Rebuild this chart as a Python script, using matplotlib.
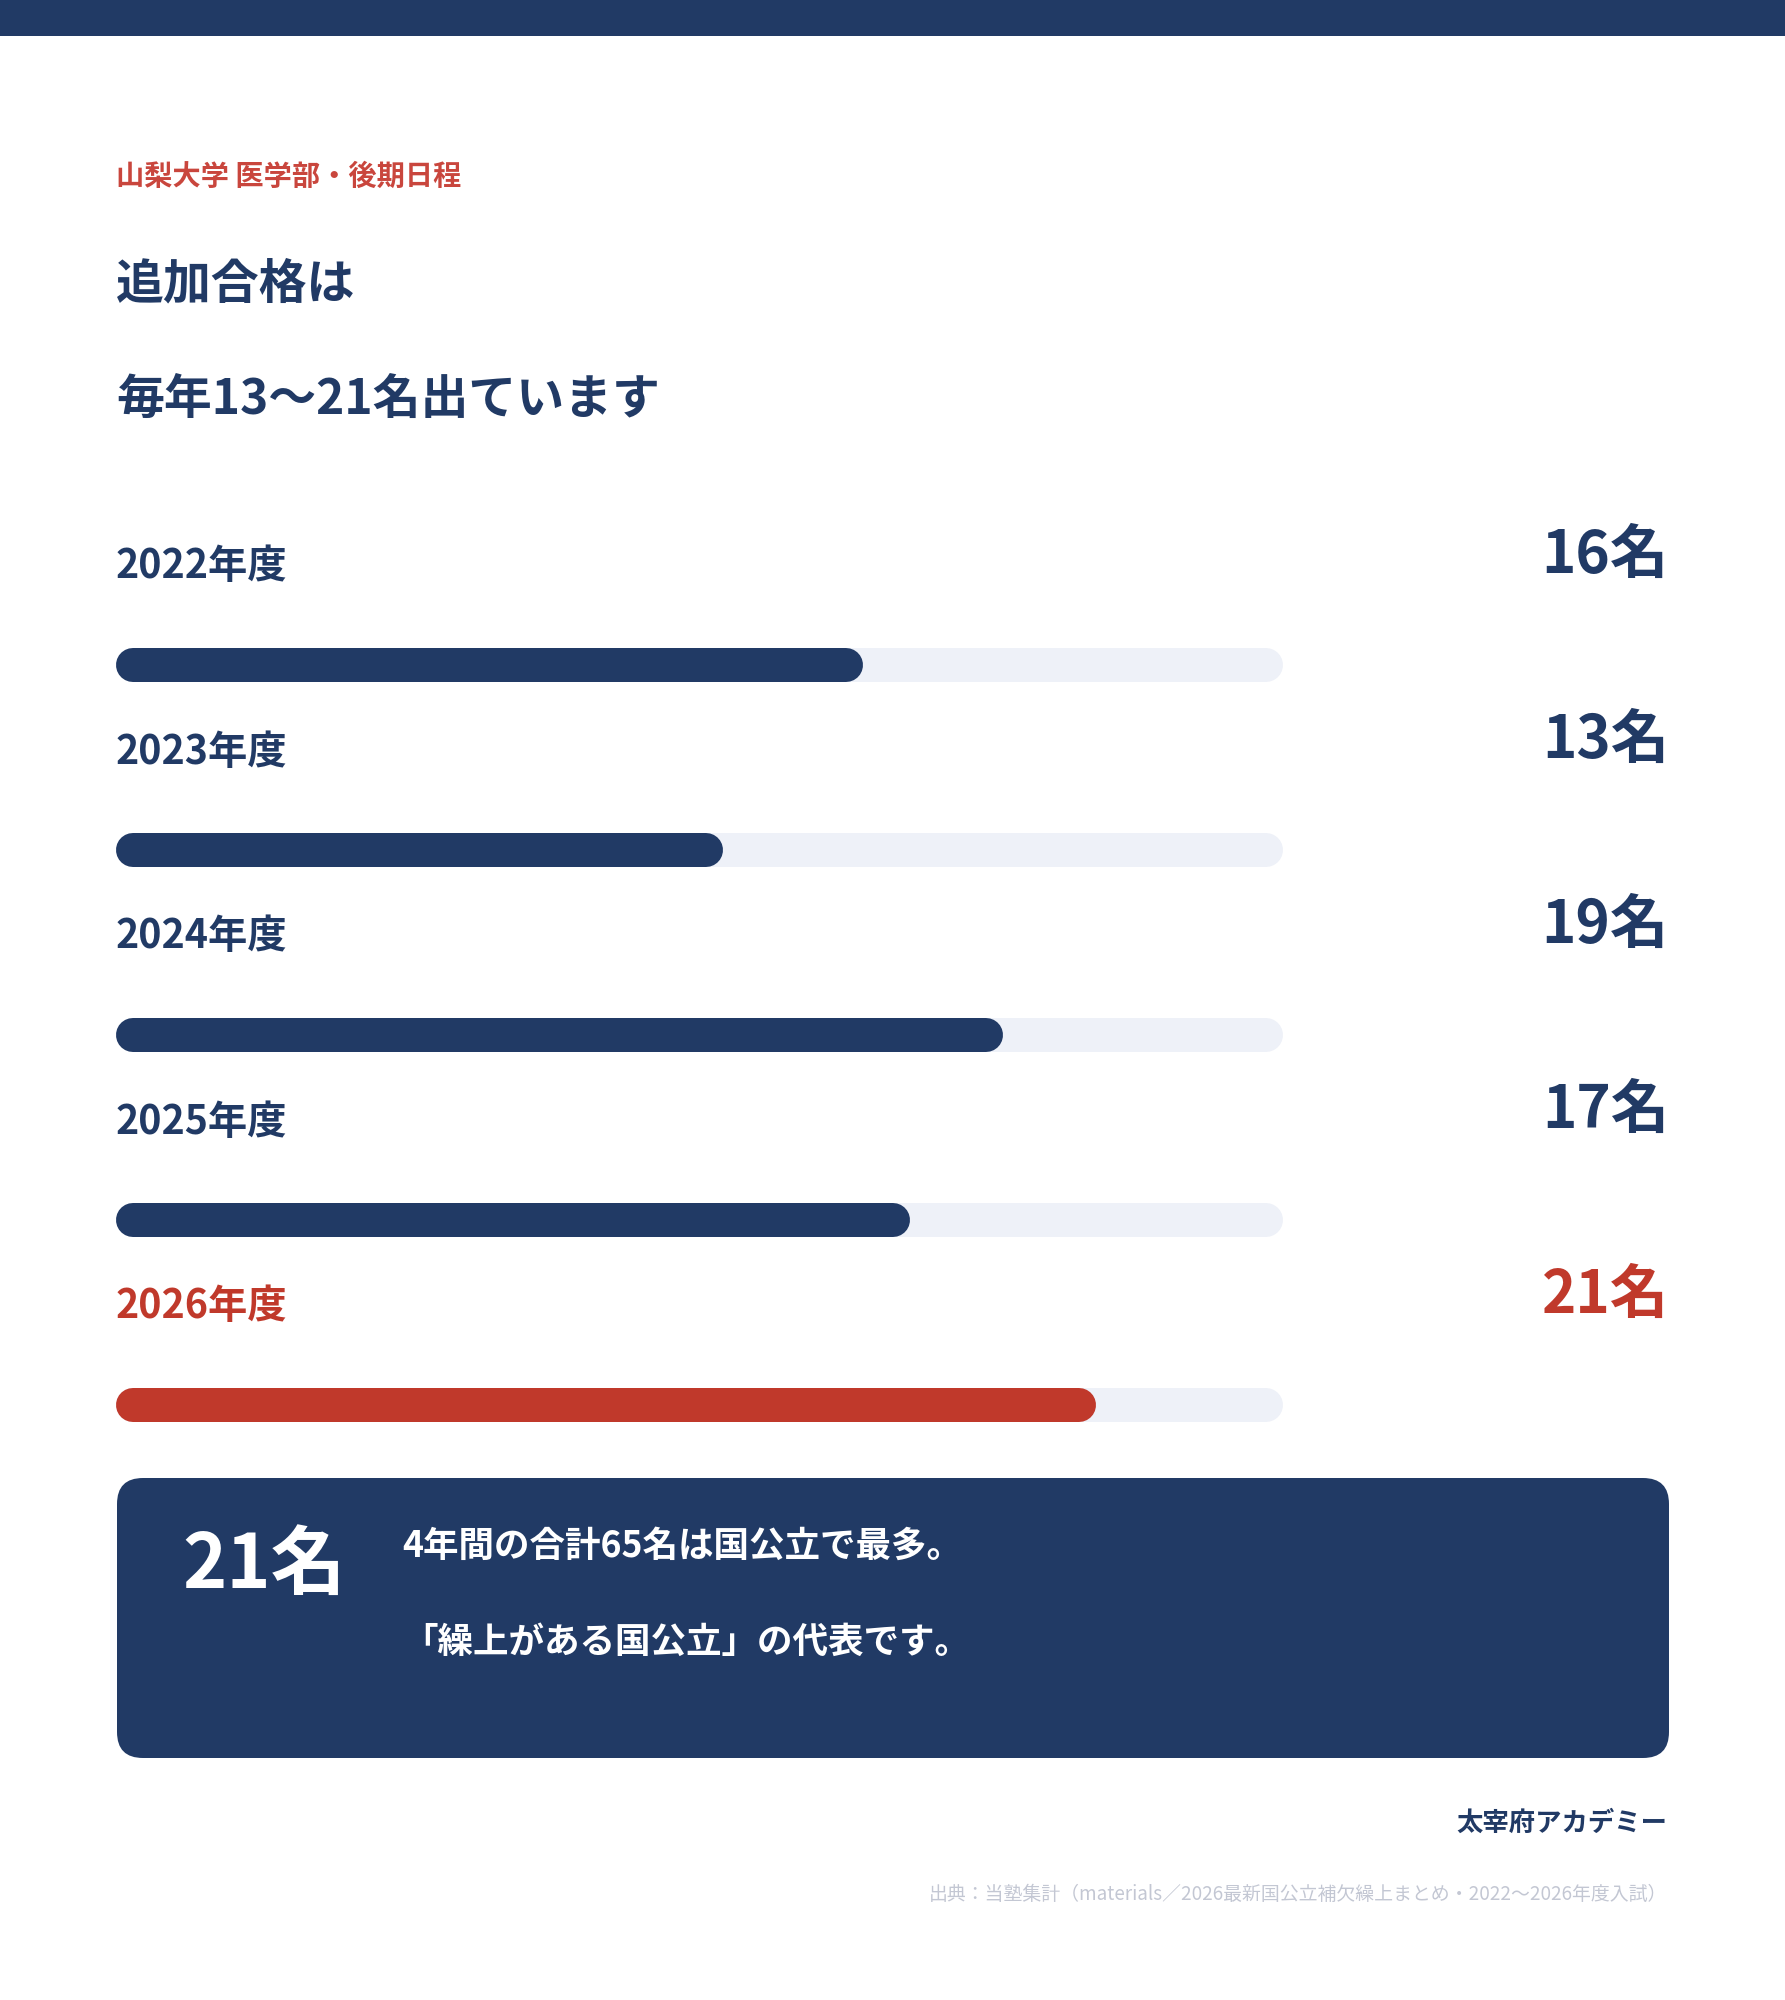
import matplotlib
matplotlib.use("Agg")
import matplotlib.pyplot as plt
from matplotlib.patches import FancyBboxPatch, Rectangle

plt.rcParams['font.family'] = ['Noto Sans CJK JP', 'DejaVu Sans']

# ---- data ----
years = ["2022年度", "2023年度", "2024年度", "2025年度", "2026年度"]
values = [16, 13, 19, 17, 21]
highlight = [False, False, False, False, True]
scale_max = 25
subtitle = "山梨大学 医学部・後期日程"
title_lines = ["追加合格は", "毎年13〜21名出ています"]
box_big = "21名"
box_lines = ["4年間の合計65名は国公立で最多。", "「繰上がある国公立」の代表です。"]
brand = "太宰府アカデミー"
source = "出典：当塾集計（materials／2026最新国公立補欠繰上まとめ・2022〜2026年度入試）"

NAVY = "#213a65"
RED = "#c0392b"
SUB_RED = "#c9463d"
TRACK = "#eef1f8"
GRAY = "#c3c7d3"

W, H = 1785, 2000
fig = plt.figure(figsize=(W / 100, H / 100), dpi=100)
fig.patch.set_facecolor("white")

# pixel-coordinate axes
ax = fig.add_axes([0, 0, 1, 1])
ax.set_xlim(0, W)
ax.set_ylim(H, 0)
ax.axis("off")

# top band
ax.add_patch(Rectangle((0, 0), W, 36, color=NAVY, lw=0))

left = 116
right = 1669

ax.text(left, 177, subtitle, fontsize=20.3, fontweight="bold", color=SUB_RED,
        ha="left", va="center")
ax.text(left, 284, title_lines[0], fontsize=34.5, fontweight="bold", color=NAVY,
        ha="left", va="center")
ax.text(left, 399, title_lines[1], fontsize=34.5, fontweight="bold", color=NAVY,
        ha="left", va="center")

# rows
row0 = 567
step = 185
label_y = [row0 + i * step for i in range(len(years))]
value_y = [556 + i * step for i in range(len(years))]
bar_y = [665 + i * step for i in range(len(years))]

for i, (yr, v, hl) in enumerate(zip(years, values, highlight)):
    c = RED if hl else NAVY
    ax.text(left, label_y[i], yr, fontsize=28.3, fontweight="bold", color=c,
            ha="left", va="center")
    ax.text(right, value_y[i], f"{v}名", fontsize=42, fontweight="bold", color=c,
            ha="right", va="center")

# bar axes: x in data units (0..scale_max), y in pixels
track_x0, track_w = 116, 1167
bax = fig.add_axes([track_x0 / W, 0, track_w / W, 1])
bax.set_xlim(0, scale_max)
bax.set_ylim(H, 0)
bax.axis("off")
bar_px = 34
lw_pt = bar_px * 72 / 100
r = (bar_px / 2) / track_w * scale_max
for i, (v, hl) in enumerate(zip(values, highlight)):
    c = RED if hl else NAVY
    bax.plot([r, scale_max - r], [bar_y[i], bar_y[i]], color=TRACK, lw=lw_pt,
             solid_capstyle="round")
    bax.plot([r, v - r], [bar_y[i], bar_y[i]], color=c, lw=lw_pt,
             solid_capstyle="round")

# summary box
bx0, by0, bx1, by1 = 117, 1478, 1669, 1758
rad = 26
ax.add_patch(FancyBboxPatch((bx0 + rad, by0 + rad), bx1 - bx0 - 2 * rad, by1 - by0 - 2 * rad,
                            boxstyle=f"round,pad={rad}", fc=NAVY, ec="none"))
ax.text(182, 1566, box_big, fontsize=54, fontweight="bold", color="white",
        ha="left", va="center")
ax.text(402, 1546, box_lines[0], fontsize=25.6, fontweight="bold", color="white",
        ha="left", va="center")
ax.text(402, 1642, box_lines[1], fontsize=25.6, fontweight="bold", color="white",
        ha="left", va="center")

ax.text(right - 2, 1823, brand, fontsize=19, fontweight="bold", color=NAVY,
        ha="right", va="center")
ax.text(right - 2, 1894, source, fontsize=13.6, color=GRAY, ha="right", va="center")

fig.savefig("out.png", dpi=100, facecolor="white")
